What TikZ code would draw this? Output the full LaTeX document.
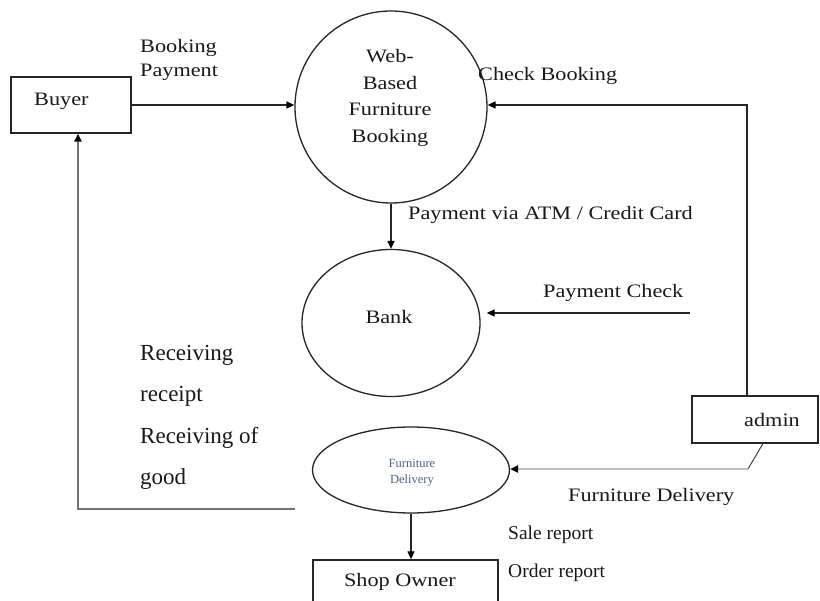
\documentclass[tikz,border=0pt]{standalone}
\usepackage{fontspec}
\setmainfont[FakeStretch=1.17]{Liberation Serif}
\newfontfamily\plainserif{Liberation Serif}
\usetikzlibrary{arrows.meta,shapes.geometric}
\definecolor{fdcol}{RGB}{85,95,135}
\begin{document}
\begin{tikzpicture}[x=1pt,y=-1pt,
  ln/.style={line width=1.3pt, black!85},
  tip/.style={-{Triangle[length=8pt,width=7pt,color=black]}},
  arr/.style={ln, tip},
  lbl/.style={font=\fontsize{19}{24}\selectfont, inner sep=0pt, text=black!90},
  big/.style={font=\plainserif\fontsize{23}{41.5}\selectfont, inner sep=0pt, text=black!90},
  rep/.style={font=\plainserif\fontsize{19.5}{24}\selectfont, inner sep=0pt, text=black!90},
  box/.style={draw, ln, rectangle, inner sep=0pt},
  proc/.style={draw, ln, ellipse, inner sep=0pt}
]
\useasboundingbox (0,0) rectangle (820,601);
\clip (0,0) rectangle (820,601);
\fill[white] (0,0) rectangle (820,601);

% nodes
\node[box, minimum width=120pt, minimum height=56pt] (buyer) at (71,105) {};
\node[lbl, anchor=west] (buyert) at (34,101) {Buyer};

\node[draw, ln, circle, minimum size=192pt, inner sep=0pt] (web) at (391,107) {};
\node[lbl, align=center, font=\fontsize{19}{26.5}\selectfont] (webt) at (390,98) {Web-\\Based\\Furniture\\Booking};

\node[proc, minimum width=178pt, minimum height=147pt] (bank) at (391,323) {};
\node[lbl] (bankt) at (389,317) {Bank};

\node[proc, minimum width=197pt, minimum height=86pt] (fd) at (411,470) {};
\node[font=\plainserif\fontsize{12.5}{16}\selectfont, text=fdcol, align=center, inner sep=0pt] (fdt) at (412,473) {Furniture\\Delivery};

\node[box, minimum width=126pt, minimum height=47pt] (admin) at (755,419.5) {};
\node[lbl] (admint) at (772,420) {admin};

\node[box, minimum width=185pt, minimum height=50pt] (shop) at (405.5,585) {};
\node[lbl] (shopt) at (400,582) {Shop Owner};

% connectors
\draw[arr] (buyer.east) -- (buyer.east -| web.west);

\coordinate (cb) at (747,105);
\draw[arr] (cb |- admin.north) -- (cb) -- (cb -| web.east);

\draw[arr] (web.south) -- (bank.north);

\coordinate (pc) at (690,313);
\draw[arr, shorten >=6pt] (pc) -- (pc -| bank.east);

\coordinate (ad1) at (763,443.5);
\coordinate (ad2) at (748,469);
\draw[line width=0.9pt, black!80] (ad1) -- (ad2);
\draw[line width=2pt, black!25, tip] (ad2) -- (ad2 -| fd.east);

\draw[arr] (fd.south) -- (fd.south |- shop.north);

\coordinate (bl) at (295,509);
\coordinate (blc) at (78,509);
\draw[line width=2.5pt, black!55, tip] (bl) -- (blc) -- (blc |- buyer.south);

% labels
\node[lbl, anchor=west, align=left] (l1) at (140,60) {Booking\\Payment};
\node[lbl, anchor=west] (l2) at (478,76) {Check Booking};
\node[lbl, anchor=west] (l3) at (408,215) {Payment via ATM / Credit Card};
\node[lbl, anchor=west] (l4) at (543,293) {Payment Check};
\node[lbl, anchor=west] (l5) at (568,497) {Furniture Delivery};
\node[big, anchor=west, align=left] (l6) at (140,417.5) {Receiving\\receipt\\Receiving of\\good};
\node[rep, anchor=west] (l7) at (508,535) {Sale report};
\node[rep, anchor=west] (l8) at (508,573) {Order report};
\end{tikzpicture}
\end{document}
